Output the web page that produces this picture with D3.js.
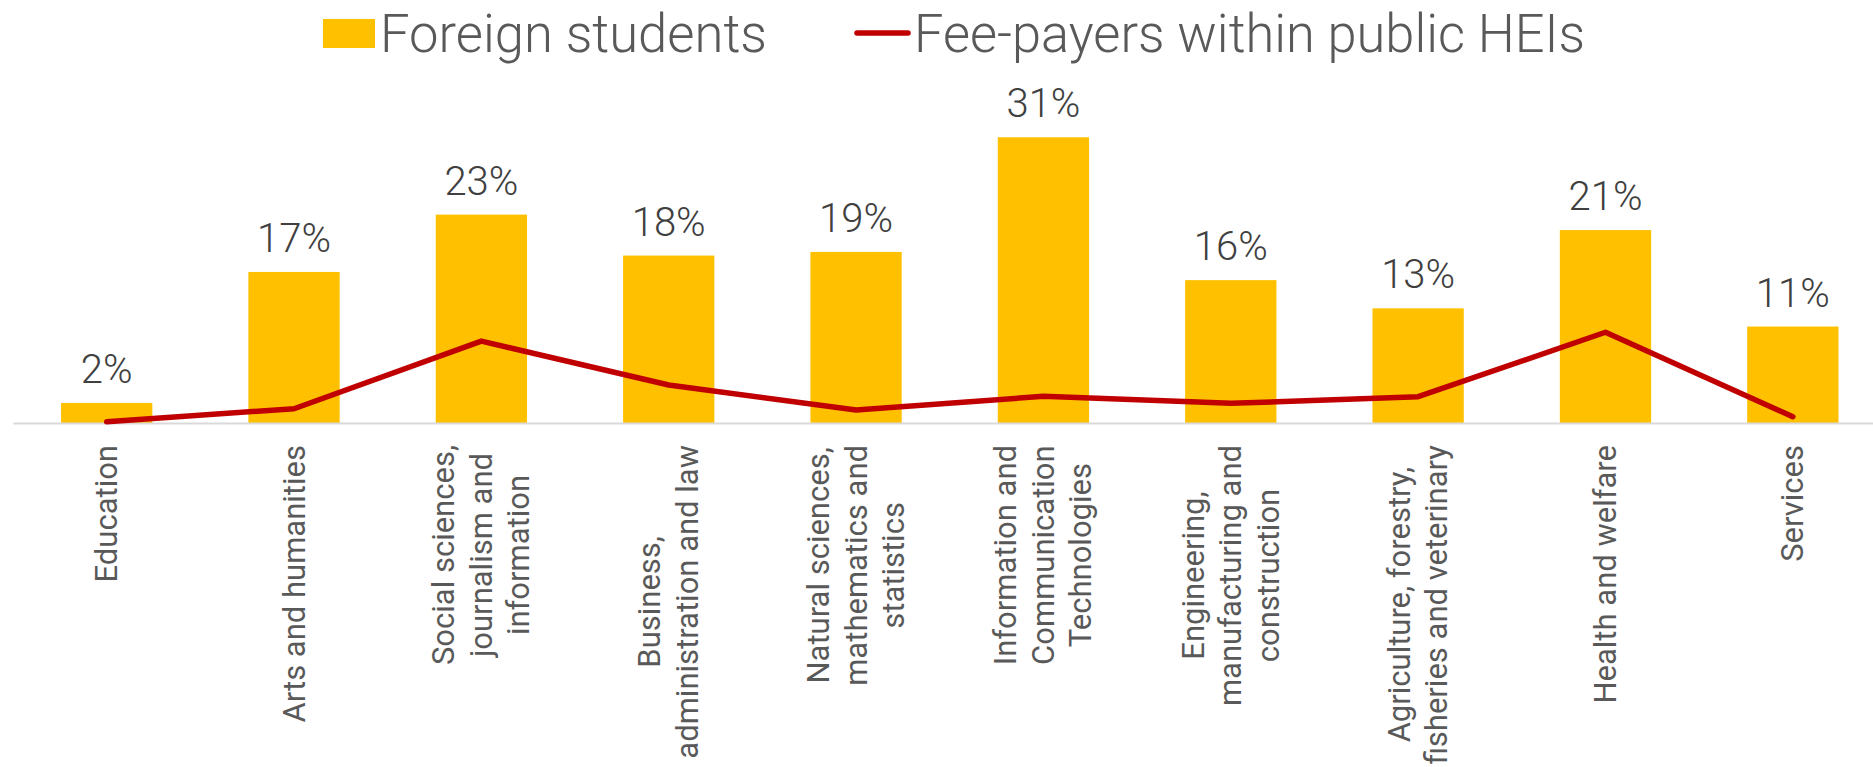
<!DOCTYPE html>
<html>
<head>
<meta charset="utf-8">
<script src="https://cdn.jsdelivr.net/npm/d3@7/dist/d3.min.js"></script>
<style>
  html, body { margin: 0; padding: 0; background: #ffffff; }
  svg { display: block; }
</style>
</head>
<body>
<svg id="chart" width="1873" height="767"></svg>
<script>
// ---- data ----
const categories = [
  "Education",
  "Arts and humanities",
  "Social sciences, journalism and information",
  "Business, administration and law",
  "Natural sciences, mathematics and statistics",
  "Information and Communication Technologies",
  "Engineering, manufacturing and construction",
  "Agriculture, forestry, fisheries and veterinary",
  "Health and welfare",
  "Services"
];
const categoryLines = [
  ["Education"],
  ["Arts and humanities"],
  ["Social sciences,", "journalism and", "information"],
  ["Business,", "administration and law"],
  ["Natural sciences,", "mathematics and", "statistics"],
  ["Information and", "Communication", "Technologies"],
  ["Engineering,", "manufacturing and", "construction"],
  ["Agriculture, forestry,", "fisheries and veterinary"],
  ["Health and welfare"],
  ["Services"]
];
const foreignStudents = [0.022, 0.166, 0.229, 0.184, 0.188, 0.314, 0.157, 0.126, 0.212, 0.106];
const feePayers = [0.0014, 0.0157, 0.090, 0.0418, 0.0143, 0.0293, 0.0216, 0.0289, 0.0997, 0.0069];
const seriesNames = ["Foreign students", "Fee-payers within public HEIs"];

// ---- layout ----
const svg = d3.select("#chart");
const baseY = 423;
const x = d3.scaleBand()
  .domain(categories)
  .range([13, 1886.5])
  .paddingInner(0.5127)
  .paddingOuter(0.2563);
const y = d3.scaleLinear().domain([0, 0.35]).range([baseY, 104.5]);

const barColor = "#FFC000";
const lineColor = "#C00000";

// bars
svg.append("g").selectAll("rect")
  .data(categories)
  .join("rect")
  .attr("x", d => x(d))
  .attr("width", x.bandwidth())
  .attr("y", (d, i) => y(foreignStudents[i]))
  .attr("height", (d, i) => y(0) - y(foreignStudents[i]))
  .attr("fill", barColor);

// x axis line
const xAxis = d3.axisBottom(x).tickSize(0).tickFormat("");
const axisG = svg.append("g").attr("transform", `translate(0,${baseY})`).call(xAxis);
axisG.select(".domain").attr("stroke", "#D9D9D9").attr("stroke-width", 2);

// line
const line = d3.line()
  .x((d, i) => x(categories[i]) + x.bandwidth() / 2)
  .y(d => y(d));
svg.append("path")
  .datum(feePayers)
  .attr("d", line)
  .attr("fill", "none")
  .attr("stroke", lineColor)
  .attr("stroke-width", 5.5)
  .attr("stroke-linejoin", "round")
  .attr("stroke-linecap", "round");

// data labels
const pct = d3.format(".0%");
svg.append("g").selectAll("text")
  .data(categories)
  .join("text")
  .attr("x", d => x(d) + x.bandwidth() / 2)
  .attr("y", (d, i) => y(foreignStudents[i]) - 20)
  .attr("text-anchor", "middle")
  .attr("font-family", "Roboto, 'Open Sans', sans-serif")
  .attr("font-weight", 300)
  .attr("font-size", 40)
  .attr("fill", "#404040")
  .text((d, i) => pct(foreignStudents[i]));

// category labels (rotated, wrapped, centered)
const labelTop = 445;
const lineGap = 37.5;
const catG = svg.append("g");
categories.forEach((c, i) => {
  const g = catG.append("g")
    .attr("transform", `translate(${x(c) + x.bandwidth() / 2},${labelTop}) rotate(-90)`);
  const lines = categoryLines[i];
  const texts = lines.map((t, j) => g.append("text")
    .attr("text-anchor", "middle")
    .attr("dominant-baseline", "central")
    .attr("font-family", "Roboto, 'Open Sans', sans-serif")
    .attr("font-size", 31)
    .attr("fill", "#595959")
    .attr("y", (j - (lines.length - 1) / 2) * lineGap)
    .text(t));
  const maxW = d3.max(texts, t => t.node().getComputedTextLength());
  texts.forEach(t => t.attr("x", -maxW / 2));
});

// legend
const leg = svg.append("g");
leg.append("rect")
  .attr("x", 323).attr("y", 19).attr("width", 52).attr("height", 29)
  .attr("fill", barColor);
leg.append("text")
  .attr("x", 380).attr("y", 52)
  .attr("font-family", "Roboto, 'Open Sans', sans-serif")
  .attr("font-weight", 300)
  .attr("font-size", 54)
  .attr("fill", "#595959")
  .attr("textLength", 387)
  .attr("lengthAdjust", "spacingAndGlyphs")
  .text(seriesNames[0]);
leg.append("line")
  .attr("x1", 857).attr("x2", 908).attr("y1", 33).attr("y2", 33)
  .attr("stroke", lineColor).attr("stroke-width", 5.5).attr("stroke-linecap", "round");
leg.append("text")
  .attr("x", 914).attr("y", 52)
  .attr("font-family", "Roboto, 'Open Sans', sans-serif")
  .attr("font-weight", 300)
  .attr("font-size", 54)
  .attr("fill", "#595959")
  .attr("textLength", 671)
  .attr("lengthAdjust", "spacingAndGlyphs")
  .text(seriesNames[1]);
</script>
</body>
</html>
